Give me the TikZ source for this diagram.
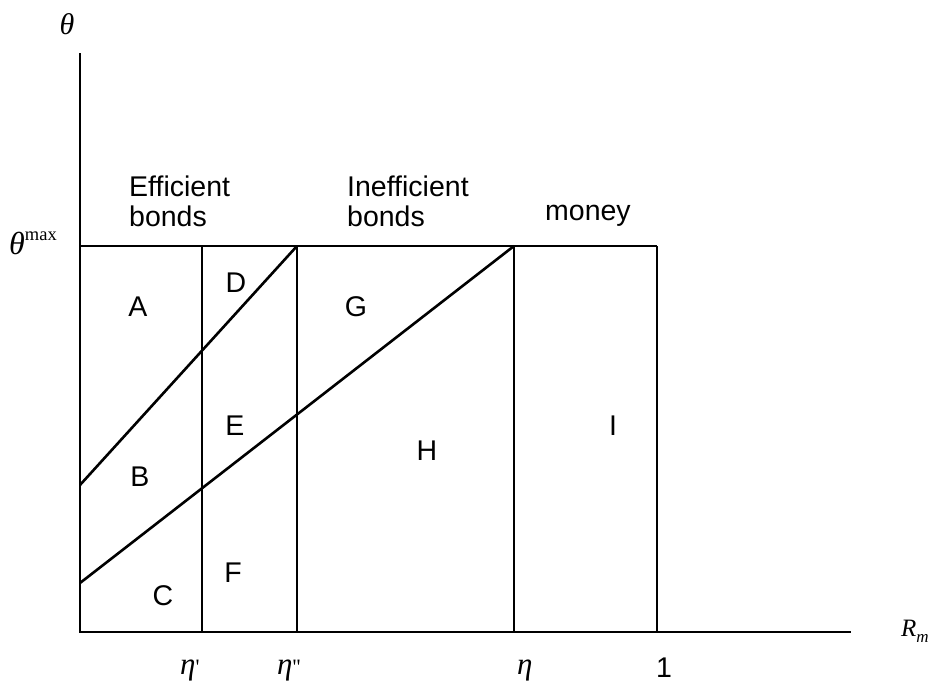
\documentclass[tikz,border=0pt]{standalone}
\usepackage{fontspec}
\setmainfont{Liberation Sans}
\newfontfamily\tms{Liberation Serif}
\begin{document}
\begin{tikzpicture}[x=1pt,y=-1pt,
  ln/.style={line width=2.6pt},
  txt/.style={inner sep=0pt,font=\fontsize{28.5}{30}\selectfont},
  mth/.style={inner sep=0pt,font=\tms\itshape\fontsize{31}{34}\selectfont},
  region/.style={txt,anchor=center}]
\useasboundingbox (0,0) rectangle (933,683);
% axes
\coordinate (Ytop) at (80,53);
\coordinate (O) at (80,632);
\coordinate (Xend) at (851,632);
% top line
\coordinate (T0) at (80,246);
\coordinate (T1) at (202,246);
\coordinate (T2) at (297,246);
\coordinate (T3) at (514,246);
\coordinate (T4) at (657,246);
% bottoms
\coordinate (B1) at (202,632);
\coordinate (B2) at (297,632);
\coordinate (B3) at (514,632);
\coordinate (B4) at (657,632);
% diagonal starts
\coordinate (L1) at (80,485);
\coordinate (L2) at (80,583);
\draw[ln] (Ytop) -- (O) -- (Xend);
\draw[ln] (T0) -- (T4);
\draw[ln] (T1) -- (B1);
\draw[ln] (T2) -- (B2);
\draw[ln] (T3) -- (B3);
\draw[ln] (T4) -- (B4);
\draw[ln] (L1) -- (T2);
\draw[ln] (L2) -- (T3);
% axis labels
\node[mth,anchor=base,font=\tms\itshape\fontsize{30}{34}\selectfont] (theta) at (67,34) {θ};
\node[mth,anchor=base west,font=\tms\itshape\fontsize{32}{34}\selectfont] (thetamax) at (9,254)
  {θ\raisebox{14pt}{\upshape\fontsize{18.5}{20}\selectfont max}};
\node[mth,anchor=base west,font=\tms\itshape\fontsize{25}{28}\selectfont] (Rm) at (901,636)
  {R\raisebox{-6pt}{\fontsize{17}{18}\selectfont m}};
\node[mth,anchor=base west] (eta1) at (180,674) {η\upshape\fontsize{22}{24}\selectfont '};
\node[mth,anchor=base west] (eta2) at (277,674) {η\upshape\fontsize{22}{24}\selectfont ''};
\node[mth,anchor=base west] (eta) at (517,674) {η};
\node[txt,anchor=base] (one) at (664,677) {1};
% headings
\node[txt,anchor=north west,align=left] (eff) at (129,176) {Efficient\\bonds};
\node[txt,anchor=north west,align=left] (ineff) at (347,176) {Inefficient\\bonds};
\node[txt,anchor=base west] (money) at (545,220) {money};
% regions
\node[region] (A) at (138,307) {A};
\node[region] (D) at (236,283) {D};
\node[region] (G) at (356,307) {G};
\node[region] (B) at (140,477) {B};
\node[region] (E) at (235,426) {E};
\node[region] (H) at (427,451) {H};
\node[region] (I) at (613,426) {I};
\node[region] (C) at (163,596) {C};
\node[region] (F) at (233,573) {F};
\end{tikzpicture}
\end{document}
